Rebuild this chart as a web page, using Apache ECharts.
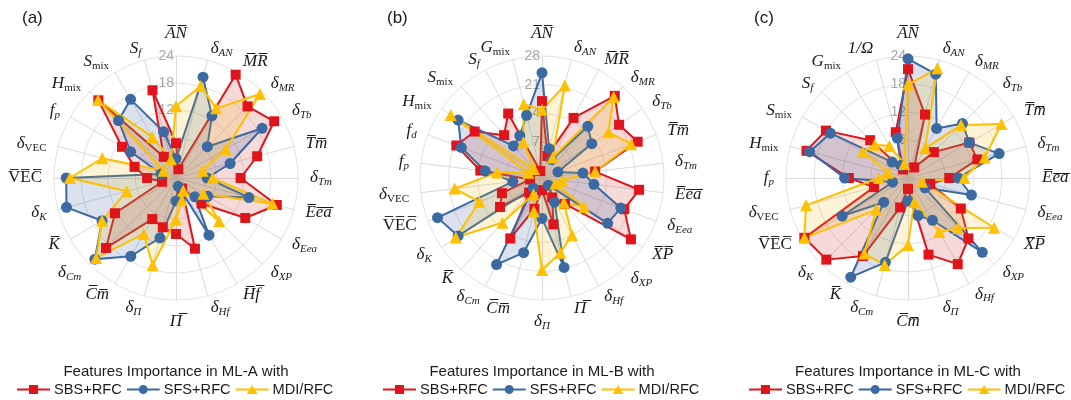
<!DOCTYPE html>
<html><head><meta charset="utf-8">
<script src="https://cdn.jsdelivr.net/npm/echarts@6/dist/echarts.min.js"></script>
<style>html,body{margin:0;padding:0;background:#fff}#c{width:1071px;height:400px}</style>
</head><body><div id="c"></div>
<script>
// ---------- data ----------
const seriesNames = ['SBS+RFC', 'SFS+RFC', 'MDI/RFC'];

// categories listed clockwise from the top axis
const catsA = ['{a|A\u0305N\u0305}','{a|δ}{b|AN}','{a|M\u0305R\u0305}','{a|δ}{b|MR}','{a|δ}{b|Tb}','{a|T\u0305m\u0305}','{a|δ}{b|Tm}','{a|E\u0305e\u0305a\u0305}','{a|δ}{b|Eea}','{a|δ}{b|XP}','{a|H\u0305f\u0305}','{a|δ}{b|Hf}','{a|Π\u0305}','{a|δ}{b|Π}','{a|C\u0305m\u0305}','{a|δ}{b|Cm}','{a|K\u0305}','{a|δ}{b|K}','{u|V\u0305E\u0305C\u0305}','{a|δ}{c|VEC}','{a|f}{b|p}','{a|H}{c|mix}','{a|S}{c|mix}','{a|S}{b|f}'];
const sbsA = [4.7, -1.0, 23.4, 19.4, 22.1, 15.6, 11.3, 20.1, 14.7, 5.0, -0.3, 13.2, 9.4, 8.3, 7.5, 18.9, 12.6, 0.2, 3.4, 6.5, 10.8, 21.3, 2.4, 17.1];
const sfsA = [1.3, 20.1, 12.9, 6.8, 19.0, 9.4, 3.9, 13.7, 5.1, 2.9, 11.6, -1.1, 2.1, 10.7, 17.0, 22.4, 15.9, 22.1, 21.3, 0.4, 8.6, 15.0, 17.1, 7.6];
const mdiA = [12.9, 18.1, 14.8, 23.3, 9.7, 3.1, 5.1, 19.1, 4.0, 10.5, 0.2, 2.1, 6.2, 17.0, 11.3, 22.0, 15.9, 8.3, 20.5, 13.9, 0.2, 21.4, 7.5, 1.3];
const ticksA = [6, 12, 18, 24];

const catsB = ['{a|A\u0305N\u0305}','{a|δ}{b|AN}','{a|M\u0305R\u0305}','{a|δ}{b|MR}','{a|δ}{b|Tb}','{a|T\u0305m\u0305}','{a|δ}{b|Tm}','{a|E\u0305e\u0305a\u0305}','{a|δ}{b|Eea}','{a|X\u0305P\u0305}','{a|δ}{b|XP}','{a|δ}{b|Hf}','{a|Π\u0305}','{a|δ}{b|Π}','{a|C\u0305m\u0305}','{a|δ}{b|Cm}','{a|K\u0305}','{a|δ}{b|K}','{u|V\u0305E\u0305C\u0305}','{a|δ}{c|VEC}','{a|f}{b|p}','{a|f}{b|d}','{a|H}{c|mix}','{a|S}{c|mix}','{a|S}{b|f}','{a|G}{c|mix}'];
const sbsB = [17.0, 3.8, 14.8, 25.0, 21.1, 23.2, 11.3, 22.1, 19.7, 24.6, 6.7, 3.6, 9.9, 1.2, 6.0, 14.9, 3.0, 10.7, 8.7, 1.2, 13.4, 20.6, 18.2, 12.2, 16.0, 0.0];
const sfsB = [23.9, 5.6, 3.3, 15.1, 13.0, 2.4, 8.3, 11.0, 18.8, 17.7, 0.6, 4.9, 20.7, 8.1, 17.0, 22.1, 1.5, 23.1, 25.5, 5.4, 12.2, 19.3, 23.1, 8.7, 9.9, 14.0];
const mdiB = [14.9, 21.5, 3.9, 24.6, 17.9, 21.5, 11.3, 3.3, 1.8, 10.7, 6.3, 14.0, 17.0, 20.7, 6.6, 2.7, 12.8, 23.8, 14.6, 19.7, 9.3, 1.8, 25.3, 1.2, 8.1, 16.8];
const ticksB = [7, 14, 21, 28];

const catsC = ['{a|A\u0305N\u0305}','{a|δ}{b|AN}','{a|δ}{b|MR}','{a|δ}{b|Tb}','{a|T\u0305m\u0305}','{a|δ}{b|Tm}','{a|E\u0305e\u0305a\u0305}','{a|δ}{b|Eea}','{a|X\u0305P\u0305}','{a|δ}{b|XP}','{a|δ}{b|Hf}','{a|δ}{b|Π}','{a|C\u0305m\u0305}','{a|δ}{b|Cm}','{a|K\u0305}','{a|δ}{b|K}','{u|V\u0305E\u0305C\u0305}','{a|δ}{c|VEC}','{a|f}{b|p}','{a|H}{c|mix}','{a|S}{c|mix}','{a|S}{b|f}','{a|G}{c|mix}','{a|1/Ω}'];
const sbsC = [21.2, 12.0, 0.6, 5.8, 13.1, 13.3, 6.8, 2.9, 11.0, 16.2, 19.2, 14.9, 0.3, 4.5, 17.2, 22.6, 23.5, 5.5, 10.6, 20.4, 18.2, 9.4, 0.1, 8.1];
const sfsC = [23.4, 20.9, 10.2, 14.4, 13.1, 18.1, 8.7, 12.0, 2.2, 20.4, 8.4, 6.3, 2.9, 16.6, 22.4, 5.3, 14.2, 1.4, 11.5, 19.7, 17.1, 2.8, 1.1, 6.8];
const mdiC = [17.9, 22.2, 5.3, 14.0, 21.0, 14.9, 10.0, 1.1, 19.2, 13.1, 11.3, 3.3, 12.3, 17.2, 16.6, 7.6, 23.5, 20.5, 4.2, 2.4, 9.1, 8.0, 5.9, 1.1];
const ticksC = [6, 12, 18, 24];

const panelLabels = ['(a)', '(b)', '(c)'];
const legendTitles = ['Features Importance in ML-A with', 'Features Importance in ML-B with', 'Features Importance in ML-C with'];

// ---------- style ----------
const COLORS = ['#e0141b', '#3b6aa3', '#ffc000'];
const AREAS = ['rgba(205,45,45,0.26)', 'rgba(55,95,160,0.26)', 'rgba(245,185,0,0.22)'];
const SYMBOLS = ['rect', 'circle', 'triangle'];
const SIZES = [10, 11, 12];
const ICONS = [
  'path://M0,4H33V6H0Z M12,0.5H21V9.5H12Z',
  'path://M0,4H33V6H0Z M16.5,0.5A4.5,4.5 0 1 1 16.5,9.5A4.5,4.5 0 1 1 16.5,0.5Z',
  'path://M0,4H33V6H0Z M16.5,0.3L21.8,9.5H11.2Z'
];
const RICH = {
  a: {fontFamily: 'Liberation Serif', fontStyle: 'italic', fontSize: 17, lineHeight: 20, color: '#1a1a1a'},
  u: {fontFamily: 'Liberation Serif', fontSize: 17, lineHeight: 20, color: '#1a1a1a'},
  b: {fontFamily: 'Liberation Serif', fontStyle: 'italic', fontSize: 11, lineHeight: 9, verticalAlign: 'bottom', color: '#1a1a1a'},
  c: {fontFamily: 'Liberation Serif', fontSize: 11, lineHeight: 9, verticalAlign: 'bottom', color: '#1a1a1a'}
};

// ECharts radar runs counter-clockwise; reorder so the drawing runs clockwise
function cw(arr) { return [arr[0]].concat(arr.slice(1).reverse()); }

function radarCfg(cats, cx, min, max, step, ticks) {
  const n = Math.round((max - min) / step);
  const ringColors = [];
  for (let k = 0; k <= n; k++) {
    const v = min + k * step;
    ringColors.push(ticks.some(t => Math.abs(t - v) < 1e-6) ? '#e2e2e2' : 'rgba(0,0,0,0)');
  }
  const indicator = cw(cats).map((name, i) => {
    const o = {name: name, min: min, max: max};
    if (i === 0) {
      o.axisLabel = {
        show: true, color: '#a8a8a8', fontSize: 14, fontFamily: 'Liberation Sans', margin: 2,
        formatter: v => ticks.some(t => Math.abs(t - v) < 1e-6) ? String(Math.round(v)) : ''
      };
    }
    return o;
  });
  return {
    center: [cx, 178], radius: 122, startAngle: 90, shape: 'circle', splitNumber: n,
    indicator: indicator, nameGap: 12,
    axisName: {color: '#1a1a1a', fontFamily: 'Liberation Serif', fontSize: 17, rich: RICH},
    axisLine: {lineStyle: {color: '#dadada', width: 1}},
    splitLine: {lineStyle: {color: ringColors, width: 1}},
    splitArea: {show: false},
    axisTick: {show: false},
    axisLabel: {show: false}
  };
}

function radarSeries(ri, lists) {
  return {
    type: 'radar', radarIndex: ri,
    data: lists.map((vals, k) => ({
      name: seriesNames[k], value: cw(vals),
      symbol: SYMBOLS[k], symbolSize: SIZES[k],
      itemStyle: {color: COLORS[k]},
      lineStyle: {color: COLORS[k], width: 2},
      areaStyle: {color: AREAS[k]}
    }))
  };
}

const centersX = [176, 542, 908];
const legendLeft = [17, 383, 749];

const option = {
  animation: false,
  backgroundColor: '#ffffff',
  title: panelLabels.map((t, i) => ({
    text: t, left: [22, 387, 754][i], top: 10, padding: 0,
    textStyle: {fontFamily: 'Liberation Sans', fontSize: 17, fontWeight: 'normal', color: '#1a1a1a'}
  })).concat(legendTitles.map((t, i) => ({
    text: t, left: centersX[i], top: 364, padding: 0, textAlign: 'center',
    textStyle: {fontFamily: 'Liberation Sans', fontSize: 15, fontWeight: 'normal', color: '#1a1a1a'}
  }))),
  legend: centersX.map((cx, i) => ({
    left: legendLeft[i], top: 382, padding: 0, orient: 'horizontal', width: 340,
    itemWidth: 33, itemHeight: 10, itemGap: 5, selectedMode: false,
    textStyle: {fontFamily: 'Liberation Sans', fontSize: 14.6, color: '#1a1a1a', padding: [0, 0, 0, -1]},
    data: seriesNames.map((n, k) => ({name: n, icon: ICONS[k], itemStyle: {color: COLORS[k]}}))
  })),
  radar: [
    radarCfg(catsA, centersX[0], -3, 24, 3, ticksA),
    radarCfg(catsB, centersX[1], -1.75, 28, 1.75, ticksB),
    radarCfg(catsC, centersX[2], -2, 24, 2, ticksC)
  ],
  series: [
    radarSeries(0, [sbsA, sfsA, mdiA]),
    radarSeries(1, [sbsB, sfsB, mdiB]),
    radarSeries(2, [sbsC, sfsC, mdiC])
  ]
};
const chart = echarts.init(document.getElementById('c'));
chart.setOption(option);
</script>
</body></html>
